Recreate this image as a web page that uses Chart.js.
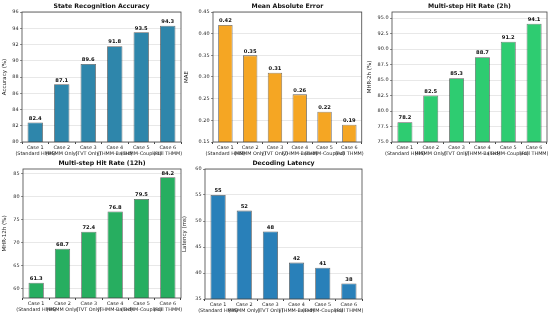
<!DOCTYPE html>
<html>
<head>
<meta charset="utf-8">
<script src="https://cdn.jsdelivr.net/npm/chart.js@4/dist/chart.umd.min.js"></script>
<style>
  html, body { margin: 0; padding: 0; background: #fff; }
  #wrap { position: relative; width: 550px; height: 316px; overflow: hidden; }
  .cell { position: absolute; }
</style>
</head>
<body>
<div id="wrap"></div>
<script>
// data
var cases = [
  ['Case 1', '(Standard HMM)'],
  ['Case 2', '(HSMM Only)'],
  ['Case 3', '(TVT Only)'],
  ['Case 4', '(THMM-Based)'],
  ['Case 5', '(THMM-Coupled)'],
  ['Case 6', '(Full THMM)']
];
var accuracy = [82.4, 87.1, 89.6, 91.8, 93.5, 94.3];
var mae = [0.42, 0.35, 0.31, 0.26, 0.22, 0.19];
var mhr2h = [78.2, 82.5, 85.3, 88.7, 91.2, 94.1];
var mhr12h = [61.3, 68.7, 72.4, 76.8, 79.5, 84.2];
var latency = [55, 52, 48, 42, 41, 38];

var FONT = 'DejaVu Sans';

// panels: plot rect (left, top, right, bottom) and y-axis area width
var panels = [
  { title: 'State Recognition Accuracy', ylabel: 'Accuracy (%)', data: accuracy, color: '#2E86AB',
    min: 80, max: 96, step: 2, tdec: 0, vdec: 1, l: 22, t: 12, r: 181, b: 142, yw: 22 },
  { title: 'Mean Absolute Error', ylabel: 'MAE', data: mae, color: '#F5A623',
    min: 0.15, max: 0.45, step: 0.05, tdec: 2, vdec: 2, l: 213, t: 12, r: 362, b: 142, yw: 31 },
  { title: 'Multi-step Hit Rate (2h)', ylabel: 'MHR-2h (%)', data: mhr2h, color: '#2ECC71',
    min: 75, max: 96, step: 2.5, tdec: 1, vdec: 1, l: 392, t: 12, r: 547, b: 142, yw: 27 },
  { title: 'Multi-step Hit Rate (12h)', ylabel: 'MHR-12h (%)', data: mhr12h, color: '#27AE60',
    min: 58, max: 86, step: 5, tdec: 0, vdec: 1, l: 23, t: 169, r: 181, b: 298, yw: 23 },
  { title: 'Decoding Latency', ylabel: 'Latency (ms)', data: latency, color: '#2980B9',
    min: 35, max: 60, step: 5, tdec: 0, vdec: 0, l: 205, t: 169, r: 362, b: 299, yw: 25 }
];

var TOP = 12, XH = 17, PADR = 3;

var decor = {
  id: 'decor',
  afterDraw: function (chart, args, o) {
    var c = chart.ctx, a = chart.chartArea;
    c.save();
    // spines
    c.strokeStyle = '#444';
    c.lineWidth = 0.8;
    c.strokeRect(a.left, a.top, a.right - a.left, a.bottom - a.top);
    // title
    c.fillStyle = '#111';
    c.font = 'bold 6.2px "' + FONT + '"';
    c.textAlign = 'center';
    c.textBaseline = 'middle';
    c.fillText(o.title, (a.left + a.right) / 2, a.top - 6);
    // value labels
    c.font = 'bold 5.2px "' + FONT + '"';
    c.textBaseline = 'bottom';
    var meta = chart.getDatasetMeta(0);
    var vals = chart.data.datasets[0].data;
    meta.data.forEach(function (el, i) {
      c.fillText(vals[i].toFixed(o.vdec), el.x, el.y - 1.5);
    });
    c.restore();
  }
};

var wrap = document.getElementById('wrap');
panels.forEach(function (p) {
  var w = p.yw + (p.r - p.l) + PADR;
  var h = TOP + (p.b - p.t) + XH;
  var div = document.createElement('div');
  div.className = 'cell';
  div.style.left = (p.l - p.yw) + 'px';
  div.style.top = (p.t - TOP) + 'px';
  div.style.width = w + 'px';
  div.style.height = h + 'px';
  var cv = document.createElement('canvas');
  div.appendChild(cv);
  wrap.appendChild(div);

  new Chart(cv.getContext('2d'), {
    type: 'bar',
    data: {
      labels: cases,
      datasets: [{
        data: p.data,
        backgroundColor: p.color,
        borderColor: 'rgba(40,40,40,0.75)',
        borderWidth: 0.8,
        barPercentage: 0.58,
        categoryPercentage: 1
      }]
    },
    plugins: [decor],
    options: {
      responsive: true,
      maintainAspectRatio: false,
      animation: false,
      devicePixelRatio: 1,
      layout: { padding: { top: TOP, right: PADR, left: 0, bottom: 0 } },
      plugins: {
        legend: { display: false },
        tooltip: { enabled: false },
        decor: { title: p.title, vdec: p.vdec }
      },
      scales: {
        x: {
          afterFit: function (s) { s.height = XH; },
          grid: { display: true, drawOnChartArea: false, tickLength: 2, color: '#444' },
          border: { display: false },
          ticks: {
            autoSkip: false, maxRotation: 0, minRotation: 0, padding: 1,
            color: '#222', font: { family: FONT, size: 4.9, lineHeight: 1.2 }
          }
        },
        y: {
          min: p.min, max: p.max,
          afterFit: function (s) { s.width = p.yw; },
          border: { display: false },
          grid: {
            color: 'rgba(170,170,170,0.45)', lineWidth: 0.6,
            borderDash: [2.5, 1.5], tickLength: 2, tickColor: '#444', tickBorderDash: []
          },
          title: {
            display: true, text: p.ylabel, color: '#222', padding: { top: 1, bottom: 0 },
            font: { family: FONT, size: 5.5 }
          },
          ticks: {
            stepSize: p.step, includeBounds: false, padding: 1.5, color: '#222',
            font: { family: FONT, size: 4.9 },
            callback: function (v) { return Number(v).toFixed(p.tdec); }
          }
        }
      }
    }
  });
});
</script>
</body>
</html>
